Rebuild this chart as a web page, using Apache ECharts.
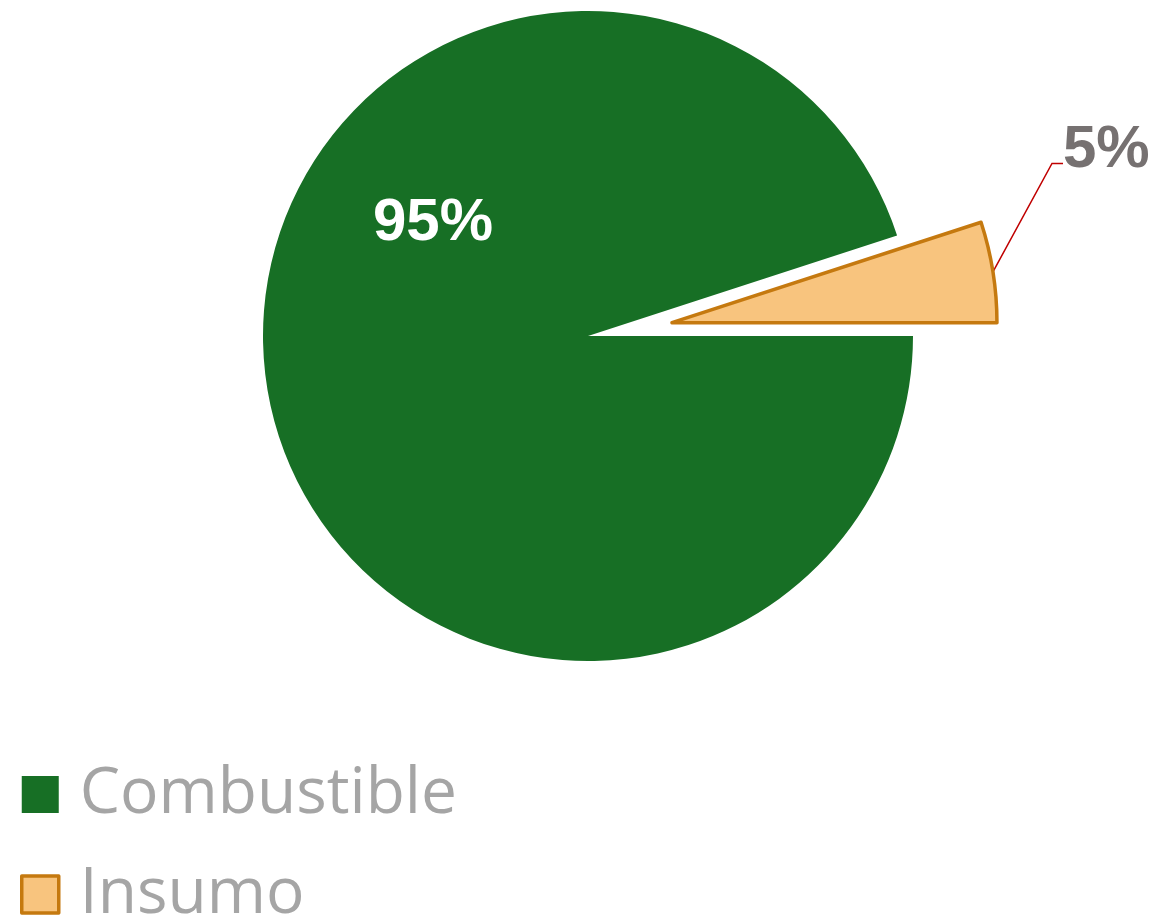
<!DOCTYPE html>
<html>
<head>
<meta charset="utf-8">
<script src="https://cdn.jsdelivr.net/npm/echarts@6/dist/echarts.min.js"></script>
<style>
html,body{margin:0;padding:0;background:#fff;}
#chart{width:1158px;height:923px;}
</style>
</head>
<body>
<div id="chart"></div>
<script>
var categories = ['Combustible', 'Insumo'];
var values = [95, 5];
var colors = ['#176F25', '#F8C47E'];
var borderColors = ['#176F25', '#C5790F'];
var borderWidths = [0, 3.5];
var labelColors = ['#FFFFFF', '#767171'];
var labelPositions = [[433, 223], [1058, 172]];

var pieCenter = [588, 336];
var pieRadius = 325;
var startAngle = 18;
var explodeOffset = 85;

// mid angle of the exploded slice (counter-clockwise from startAngle)
var total = values.reduce(function (a, b) { return a + b; }, 0);
var before = values.slice(0, 1).reduce(function (a, b) { return a + b; }, 0);
var midDeg = startAngle + 360 * (before + values[1] / 2) / total;
var midRad = midDeg * Math.PI / 180;
var explodedCenter = [
  pieCenter[0] + Math.cos(midRad) * explodeOffset,
  pieCenter[1] - Math.sin(midRad) * explodeOffset
];

var chart = echarts.init(document.getElementById('chart'));

function makeData(visibleIndex) {
  return categories.map(function (name, i) {
    var visible = i === visibleIndex;
    return {
      name: name,
      value: values[i],
      itemStyle: visible ? {
        color: colors[i],
        borderColor: borderColors[i],
        borderWidth: borderWidths[i]
      } : { color: 'transparent', borderWidth: 0 },
      label: { show: visible },
      labelLine: { show: visible && i === 1 }
    };
  });
}

var labelFont = {
  fontFamily: 'Liberation Sans',
  fontWeight: 900,
  fontSize: 60
};

chart.setOption({
  animation: false,
  backgroundColor: '#FFFFFF',
  legend: {
    orient: 'vertical',
    left: 20,
    top: 759,
    height: 400,
    padding: 0,
    icon: 'rect',
    itemWidth: 37,
    itemHeight: 37,
    itemGap: 29,
    selectedMode: false,
    data: categories.map(function (name, i) {
      return {
        name: name,
        itemStyle: {
          color: colors[i],
          borderColor: borderColors[i],
          borderWidth: borderWidths[i],
          opacity: 1
        }
      };
    }),
    textStyle: {
      fontFamily: 'Open Sans',
      fontSize: 64,
      lineHeight: 64,
      color: '#A5A5A5',
      padding: [0, 0, 7, 16]
    }
  },
  series: [{
    type: 'pie',
    name: 'main',
    center: pieCenter,
    radius: pieRadius,
    startAngle: startAngle,
    clockwise: false,
    silent: true,
    avoidLabelOverlap: false,
    label: echarts.util.extend({
      position: 'inside',
      formatter: '{d}%',
      lineHeight: 60,
      color: labelColors[0]
    }, labelFont),
    labelLayout: function () {
      return {
        x: labelPositions[0][0],
        y: labelPositions[0][1],
        align: 'center',
        verticalAlign: 'middle'
      };
    },
    emphasis: { disabled: true },
    data: makeData(0)
  }, {
    type: 'pie',
    name: 'exploded',
    center: explodedCenter,
    radius: pieRadius,
    startAngle: startAngle,
    clockwise: false,
    silent: true,
    avoidLabelOverlap: false,
    label: {
      position: 'outside',
      formatter: '{v|{d}%}\n{s| }',
      padding: [0, 0, 0, 5],
      rich: {
        v: echarts.util.extend({
          color: labelColors[1],
          lineHeight: 60
        }, labelFont),
        s: {
          fontSize: 10,
          lineHeight: 44
        }
      }
    },
    labelLine: {
      show: true,
      length: 20,
      length2: 11,
      lineStyle: { color: '#C00000', width: 1.5 }
    },
    labelLayout: function () {
      return {
        x: labelPositions[1][0],
        y: labelPositions[1][1],
        align: 'left',
        verticalAlign: 'middle'
      };
    },
    emphasis: { disabled: true },
    data: makeData(1)
  }]
});
</script>
</body>
</html>
